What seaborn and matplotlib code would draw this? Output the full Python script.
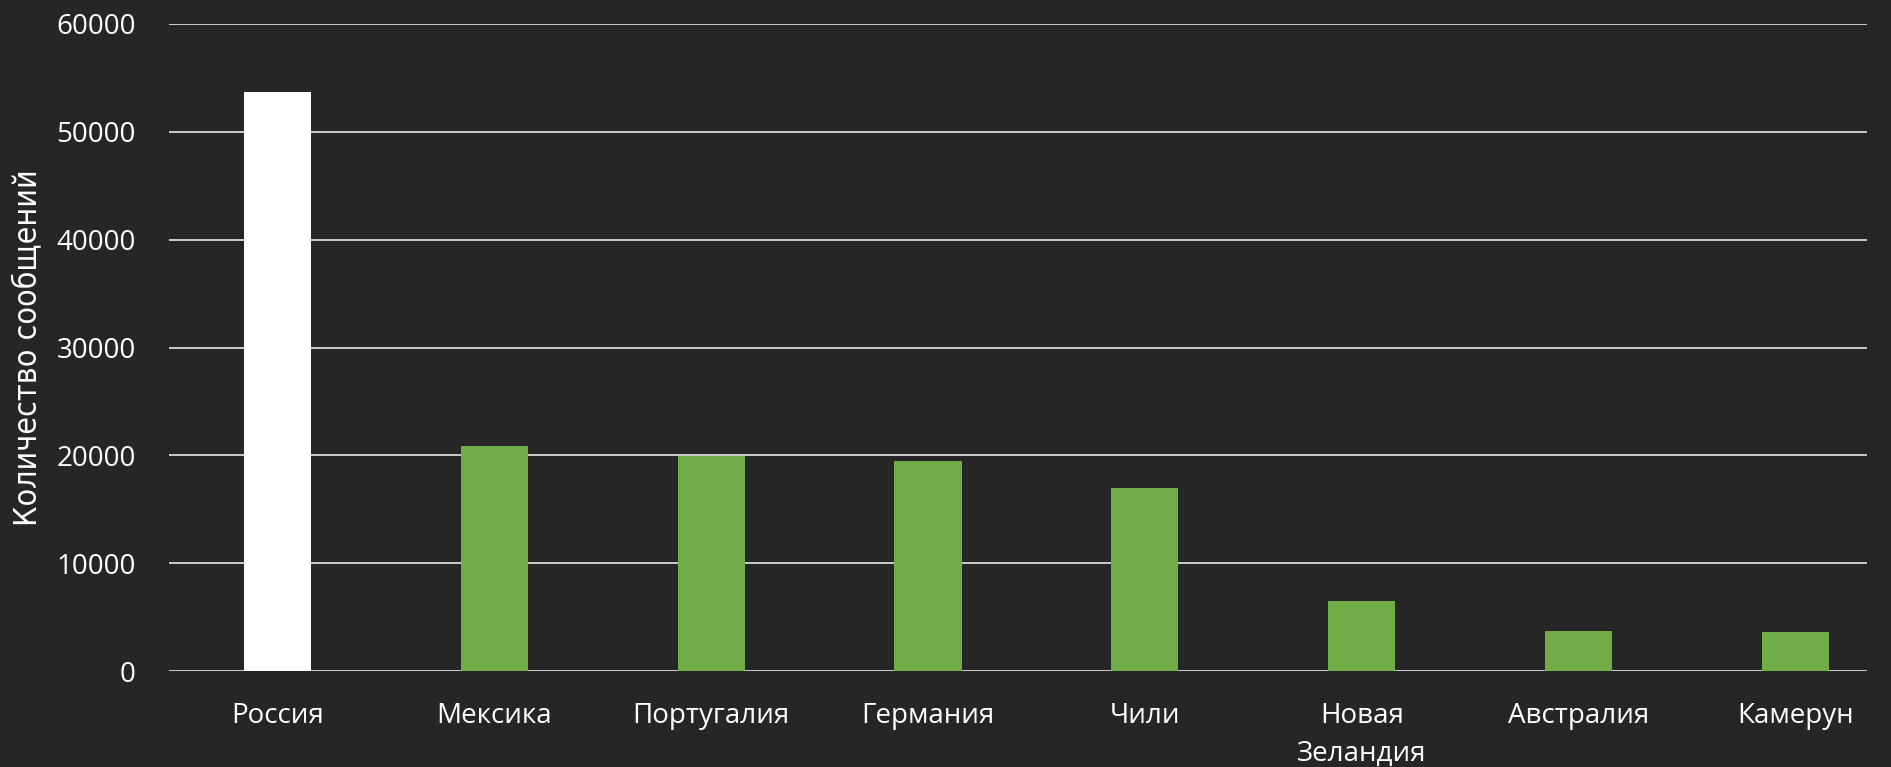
import matplotlib
matplotlib.use("Agg")
import matplotlib.pyplot as plt
import seaborn as sns

# ---------------------- данные ----------------------
countries = ["Россия", "Мексика", "Португалия", "Германия", "Чили",
             "Новая\nЗеландия", "Австралия", "Камерун"]
messages = [53700, 20850, 19900, 19450, 17000, 6450, 3700, 3650]
bar_colors = ["#ffffff"] + ["#70ad47"] * 7
y_ticks = [0, 10000, 20000, 30000, 40000, 50000, 60000]

BG = "#262626"

sns.set_theme(style="dark")
plt.rcParams['font.family'] = ['Open Sans', 'DejaVu Sans']

fig = plt.figure(figsize=(18.91, 7.67), dpi=100, facecolor=BG)
ax = fig.add_axes([169 / 1891, 1 - 671 / 767, (1867 - 169) / 1891, (671 - 24) / 767])
ax.set_facecolor(BG)

sns.barplot(x=countries, y=messages, hue=countries, palette=bar_colors,
            legend=False, width=0.31, saturation=1, ax=ax, zorder=3, linewidth=0)

ax.set_ylim(0, 60000)
ax.set_xlim(-0.5, 7.33)
ax.set_yticks(y_ticks)
ax.set_yticklabels([str(v) for v in y_ticks])
ax.yaxis.grid(True, color="#d9d9d9", linewidth=1.3, zorder=0)
ax.xaxis.grid(False)
for s in ax.spines.values():
    s.set_visible(False)

ax.tick_params(axis="y", length=0, pad=24, labelsize=20, labelcolor="white")
ax.tick_params(axis="x", length=0, pad=22, labelsize=20, labelcolor="white")
for lbl in ax.get_xticklabels():
    lbl.set_linespacing(1.5)

ax.set_xlabel("")
ax.set_ylabel("Количество сообщений", color="white", fontsize=23,
              family=['Liberation Sans Narrow', 'DejaVu Sans'],
              fontstretch="condensed", labelpad=9)

fig.savefig("out.png", facecolor=BG)
